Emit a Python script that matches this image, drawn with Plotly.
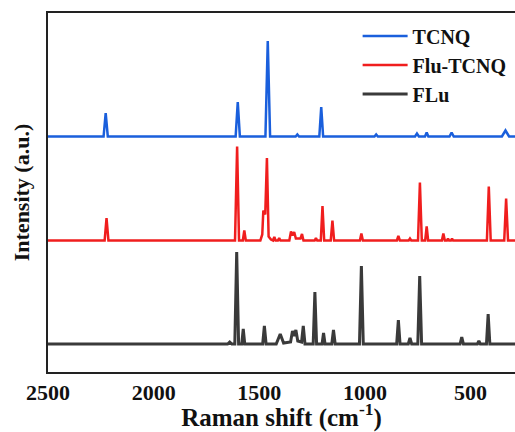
import plotly.graph_objects as go

# Raman shift ticks
tick_vals = [2500, 2000, 1500, 1000, 500]

# TCNQ spectrum vertices (wavenumber, relative intensity)
tcnq_x = [2500, 2237, 2227, 2217, 1612, 1602, 1592, 1471, 1460, 1449,
          1328, 1320, 1312, 1216, 1207, 1198, 955, 947, 939,
          763, 754, 745, 716, 708, 700, 600, 590, 580, 352, 335, 318, 290]
tcnq_y = [0, 0, 23.5, 0, 0, 34.5, 0, 0, 95.5, 0,
          0, 2, 0, 0, 29.5, 0, 0, 2, 0,
          0, 3, 0, 0, 4, 0, 0, 4, 0, 0, 6, 0, 0]

# Flu-TCNQ spectrum vertices
flutcnq_x = [2500, 2232, 2223, 2214, 1615, 1605, 1596, 1578, 1571, 1564,
             1495, 1486, 1481, 1472, 1464, 1456, 1445, 1435, 1429, 1423,
             1412, 1406, 1400, 1358, 1350, 1343, 1335, 1327, 1305, 1298, 1291,
             1238, 1232, 1226, 1209, 1201, 1193, 1162, 1154, 1146,
             1024, 1017, 1010, 849, 842, 835, 793, 787, 781,
             749, 740, 731, 715, 708, 701, 636, 629, 622,
             612, 607, 602, 593, 588, 583, 423, 414, 405, 341, 332, 323, 290]
flutcnq_y = [0, 0, 22.5, 0, 0, 94, 0, 0, 10, 0,
             0, 6, 30, 26, 82.5, 4, 1, 0, 3.5, 0,
             0, 2.5, 0, 0, 9, 5, 8.5, 2, 2, 6.5, 0,
             0, 2.5, 0, 0, 34.5, 0, 0, 20, 0,
             0, 7, 0, 0, 4.5, 0, 0, 2, 0,
             0, 58, 0, 0, 14, 0, 0, 7, 0,
             0, 2, 0, 0, 2, 0, 0, 54, 0, 0, 42, 0, 0]

# FLu spectrum vertices
flu_x = [2500, 1650, 1640, 1630, 1616, 1607, 1598, 1583, 1576, 1569,
         1484, 1476, 1468, 1420, 1401, 1385, 1352, 1343, 1336, 1327, 1318,
         1300, 1292, 1284, 1245, 1237, 1229, 1203, 1196, 1189,
         1157, 1149, 1141, 1026, 1017, 1008, 850, 842, 834,
         795, 787, 779, 750, 741, 732, 550, 542, 534,
         468, 461, 454, 425, 417, 409, 290]
flu_y = [0, 0, 2, 0, 0, 92, 0, 0, 15, 0,
         0, 18, 0, 0, 10, 1, 2, 13, 8, 14, 3,
         2, 18, 0, 0, 52, 0, 0, 11, 0,
         0, 14, 0, 0, 78, 0, 0, 24, 0,
         0, 6, 0, 0, 68, 0, 0, 7, 0,
         0, 3, 0, 0, 30, 0, 0]

series_names = ["TCNQ", "Flu-TCNQ", "FLu"]
series_offsets = [235.5, 131.5, 28]
colors = ["#1a5fdc", "#f01e1e", "#3a3a3a"]
widths = [2.5, 2.5, 3]

fig = go.Figure()
for name, xs, ys, off, c, w in zip(series_names, [tcnq_x, flutcnq_x, flu_x],
                                   [tcnq_y, flutcnq_y, flu_y], series_offsets,
                                   colors, widths):
    fig.add_trace(go.Scatter(x=xs, y=[v + off for v in ys], mode="lines", name=name,
                             line=dict(color=c, width=w)))

font_family = "Liberation Serif"
fig.update_layout(
    width=515, height=432,
    margin=dict(l=48, r=0, t=13, b=60),
    plot_bgcolor="white", paper_bgcolor="white",
    font=dict(family=font_family, color="#111"),
    xaxis=dict(range=[2500, 290], tickvals=tick_vals, ticks="", showgrid=False,
               automargin=False,
               zeroline=False, showline=True, mirror=True, linecolor="#222", linewidth=2,
               tickfont=dict(size=22, family=font_family, weight="bold"),
               ticklabelstandoff=0,
               title=dict(text="Raman shift (cm<sup>-1</sup>)", standoff=0,
                          font=dict(size=25, family=font_family, weight="bold"))),
    yaxis=dict(range=[0, 359], showticklabels=False, ticks="", showgrid=False,
               automargin=False,
               zeroline=False, showline=True, linecolor="#222", linewidth=2,
               title=dict(text="Intensity (a.u.)", standoff=10,
                          font=dict(size=22, family=font_family, weight="bold"))),
    legend=dict(x=0.663, y=0.99, xanchor="left", yanchor="top",
                font=dict(size=20, family=font_family, weight="bold"),
                bgcolor="rgba(0,0,0,0)", tracegroupgap=0, itemwidth=45),
    showlegend=True,
)
fig.write_html("out.html", config={"displayModeBar": False},
               post_script="document.body.style.margin='0px';")
